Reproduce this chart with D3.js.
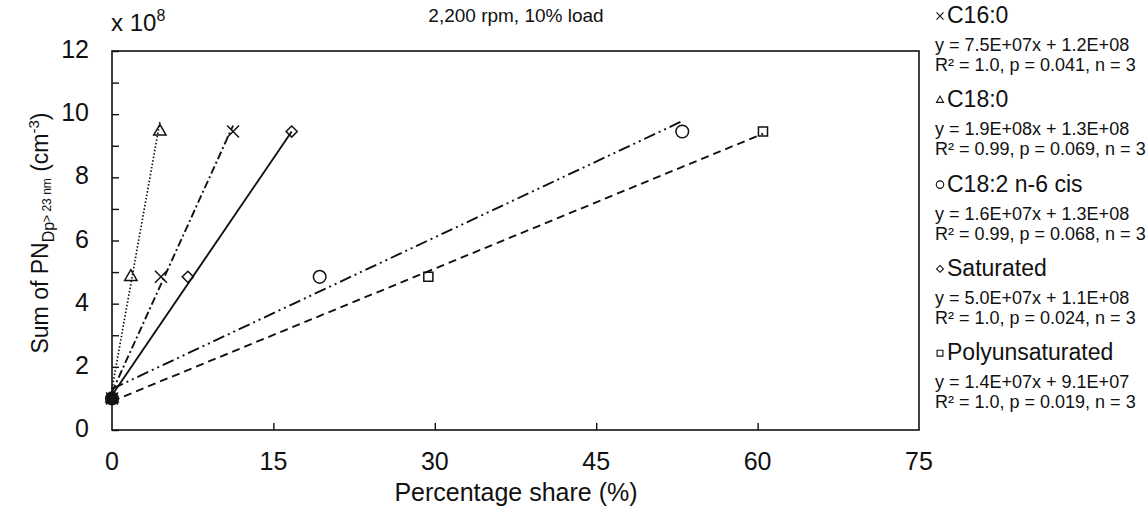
<!DOCTYPE html>
<html lang="en">
<head>
    <meta charset="utf-8">
    <title>PN vs percentage share</title>
    <script src="https://d3js.org/d3.v7.js"></script>
    <style>
        body { margin: 0; background: #fff; }
        text { font-family: "Liberation Sans", Arial, sans-serif; fill: #111; }
    </style>
</head>
<body>
<svg width="1148" height="512"></svg>
<script type="text/javascript">
    // PN values (x 10^8 cm^-3) measured at the three fuel blends
    let pnValues = [1.0, 4.85, 9.45];

    // percentage share of each fatty acid group in the three fuels
    let seriesNames = ["C16:0", "C18:0", "C18:2 n-6 cis", "Saturated", "Polyunsaturated"];
    let shareC160 = [0, 4.55, 11.25];
    let shareC180 = [0, 1.75, 4.45];
    let shareC182 = [0, 19.3, 53.0];
    let shareSat = [0, 7.05, 16.7];
    let sharePoly = [0, 29.4, 60.5];

    // trendline coefficients from the legend (slope, intercept in units of 10^8)
    let slopes = [0.75, 1.9, 0.16, 0.5, 0.14];
    let intercepts = [1.2, 1.3, 1.3, 1.1, 0.91];

    let equations = [
        "y = 7.5E+07x + 1.2E+08",
        "y = 1.9E+08x + 1.3E+08",
        "y = 1.6E+07x + 1.3E+08",
        "y = 5.0E+07x + 1.1E+08",
        "y = 1.4E+07x + 9.1E+07"
    ];
    let statLines = [
        "R² = 1.0, p = 0.041, n = 3",
        "R² = 0.99, p = 0.069, n = 3",
        "R² = 0.99, p = 0.068, n = 3",
        "R² = 1.0, p = 0.024, n = 3",
        "R² = 1.0, p = 0.019, n = 3"
    ];

    let xTicks = [0, 15, 30, 45, 60, 75];
    let yTickLabels = [0, 2, 4, 6, 8, 10, 12];

    let shares = [shareC160, shareC180, shareC182, shareSat, sharePoly];
    let markers = ["cross", "triangle", "circle", "diamond", "square"];
    let dashes = ["8,3,2,3", "1.5,2", "12,4,2,4,2,4", null, "8,5"];

    let svg = d3.select("svg");
    let x = d3.scaleLinear().domain([0, 75]).range([112, 919]);
    let y = d3.scaleLinear().domain([0, 12]).range([430, 51]);

    // frame
    svg.append("rect")
        .attr("x", 112).attr("y", 51)
        .attr("width", 919 - 112).attr("height", 430 - 51)
        .attr("fill", "none").attr("stroke", "#111").attr("stroke-width", 1.6);

    // axes with inward ticks
    let yAxis = svg.append("g").attr("transform", "translate(112,0)")
        .call(d3.axisRight(y).tickValues(d3.range(0, 13)).tickSize(7).tickFormat(""));
    yAxis.select(".domain").remove();
    yAxis.selectAll("line").attr("stroke", "#111").attr("stroke-width", 1.4);

    let xAxis = svg.append("g").attr("transform", "translate(0,430)")
        .call(d3.axisTop(x).tickValues(xTicks.slice(1, 5)).tickSize(7).tickFormat(""));
    xAxis.select(".domain").remove();
    xAxis.selectAll("line").attr("stroke", "#111").attr("stroke-width", 1.4);

    svg.append("g").selectAll("text")
        .data(yTickLabels)
        .join("text")
        .attr("x", 89).attr("y", d => y(d) + 7)
        .attr("text-anchor", "end")
        .style("font-size", "25px")
        .text(d => d);

    svg.append("g").selectAll("text")
        .data(xTicks)
        .join("text")
        .attr("x", d => x(d)).attr("y", 470)
        .attr("text-anchor", "middle")
        .style("font-size", "25px")
        .text(d => d);

    // multiplier
    let mult = svg.append("text").attr("x", 111).attr("y", 31).style("font-size", "24px");
    mult.append("tspan").text("x 10");
    mult.append("tspan").attr("dy", -10).style("font-size", "16px").text("8");

    // axis titles
    svg.append("text")
        .attr("x", 516).attr("y", 501)
        .attr("text-anchor", "middle")
        .style("font-size", "25px")
        .text("Percentage share (%)");

    let yl = svg.append("text")
        .attr("transform", "translate(48,233) rotate(-90)")
        .attr("text-anchor", "middle")
        .style("font-size", "23px");
    yl.append("tspan").text("Sum of PN");
    yl.append("tspan").attr("dy", 6).style("font-size", "16px").text("Dp");
    yl.append("tspan").attr("dy", -3).style("font-size", "12px").text("> 23 nm");
    yl.append("tspan").attr("dy", -3).text(" (cm");
    yl.append("tspan").attr("dy", -9).style("font-size", "15px").text("-3");
    yl.append("tspan").attr("dy", 9).text(")");

    svg.append("text")
        .attr("x", 516).attr("y", 22)
        .attr("text-anchor", "middle")
        .style("font-size", "19px")
        .text("2,200 rpm, 10% load");

    // trendlines
    let line = d3.line().x(d => x(d[0])).y(d => y(d[1]));
    shares.forEach(function (s, i) {
        let xMax = d3.max(s);
        svg.append("path")
            .attr("d", line([[0, intercepts[i]], [xMax, intercepts[i] + slopes[i] * xMax]]))
            .attr("fill", "none")
            .attr("stroke", "#111")
            .attr("stroke-width", i === 1 ? 1.7 : 1.9)
            .attr("stroke-dasharray", dashes[i]);
    });

    // marker shapes
    let symbolPath = {
        cross: d3.symbol(d3.symbolX, 95)(),
        triangle: d3.symbol(d3.symbolTriangle2, 110)(),
        circle: d3.symbol(d3.symbolCircle2, 125)(),
        diamond: d3.symbol(d3.symbolDiamond2, 80)(),
        square: d3.symbol(d3.symbolSquare2, 105)()
    };

    shares.forEach(function (s, i) {
        svg.append("g").selectAll("path")
            .data(s.map((v, j) => [v, pnValues[j]]))
            .join("path")
            .attr("transform", d => `translate(${x(d[0])},${y(d[1])})`)
            .attr("d", symbolPath[markers[i]])
            .attr("fill", d => (d[0] === 0 && markers[i] === "square") ? "#111" : "none")
            .attr("stroke", "#111")
            .attr("stroke-width", 1.5);
    });

    // legend at the right
    let legendSym = {
        cross: d3.symbol(d3.symbolX, 34)(),
        triangle: d3.symbol(d3.symbolTriangle2, 36)(),
        circle: d3.symbol(d3.symbolCircle2, 44)(),
        diamond: d3.symbol(d3.symbolDiamond2, 30)(),
        square: d3.symbol(d3.symbolSquare2, 44)()
    };
    seriesNames.forEach(function (name, i) {
        let top = 15 + i * 84.3;
        let g = svg.append("g");
        g.append("path")
            .attr("transform", `translate(940,${top + 1})`)
            .attr("d", legendSym[markers[i]])
            .attr("fill", "none").attr("stroke", "#111").attr("stroke-width", 1.1);
        g.append("text").attr("x", 947).attr("y", top + 8)
            .style("font-size", "23px").text(name);
        g.append("text").attr("x", 935).attr("y", top + 36)
            .style("font-size", "18px").text(equations[i]);
        g.append("text").attr("x", 935).attr("y", top + 56)
            .style("font-size", "18px").text(statLines[i]);
    });
</script>
</body>
</html>
